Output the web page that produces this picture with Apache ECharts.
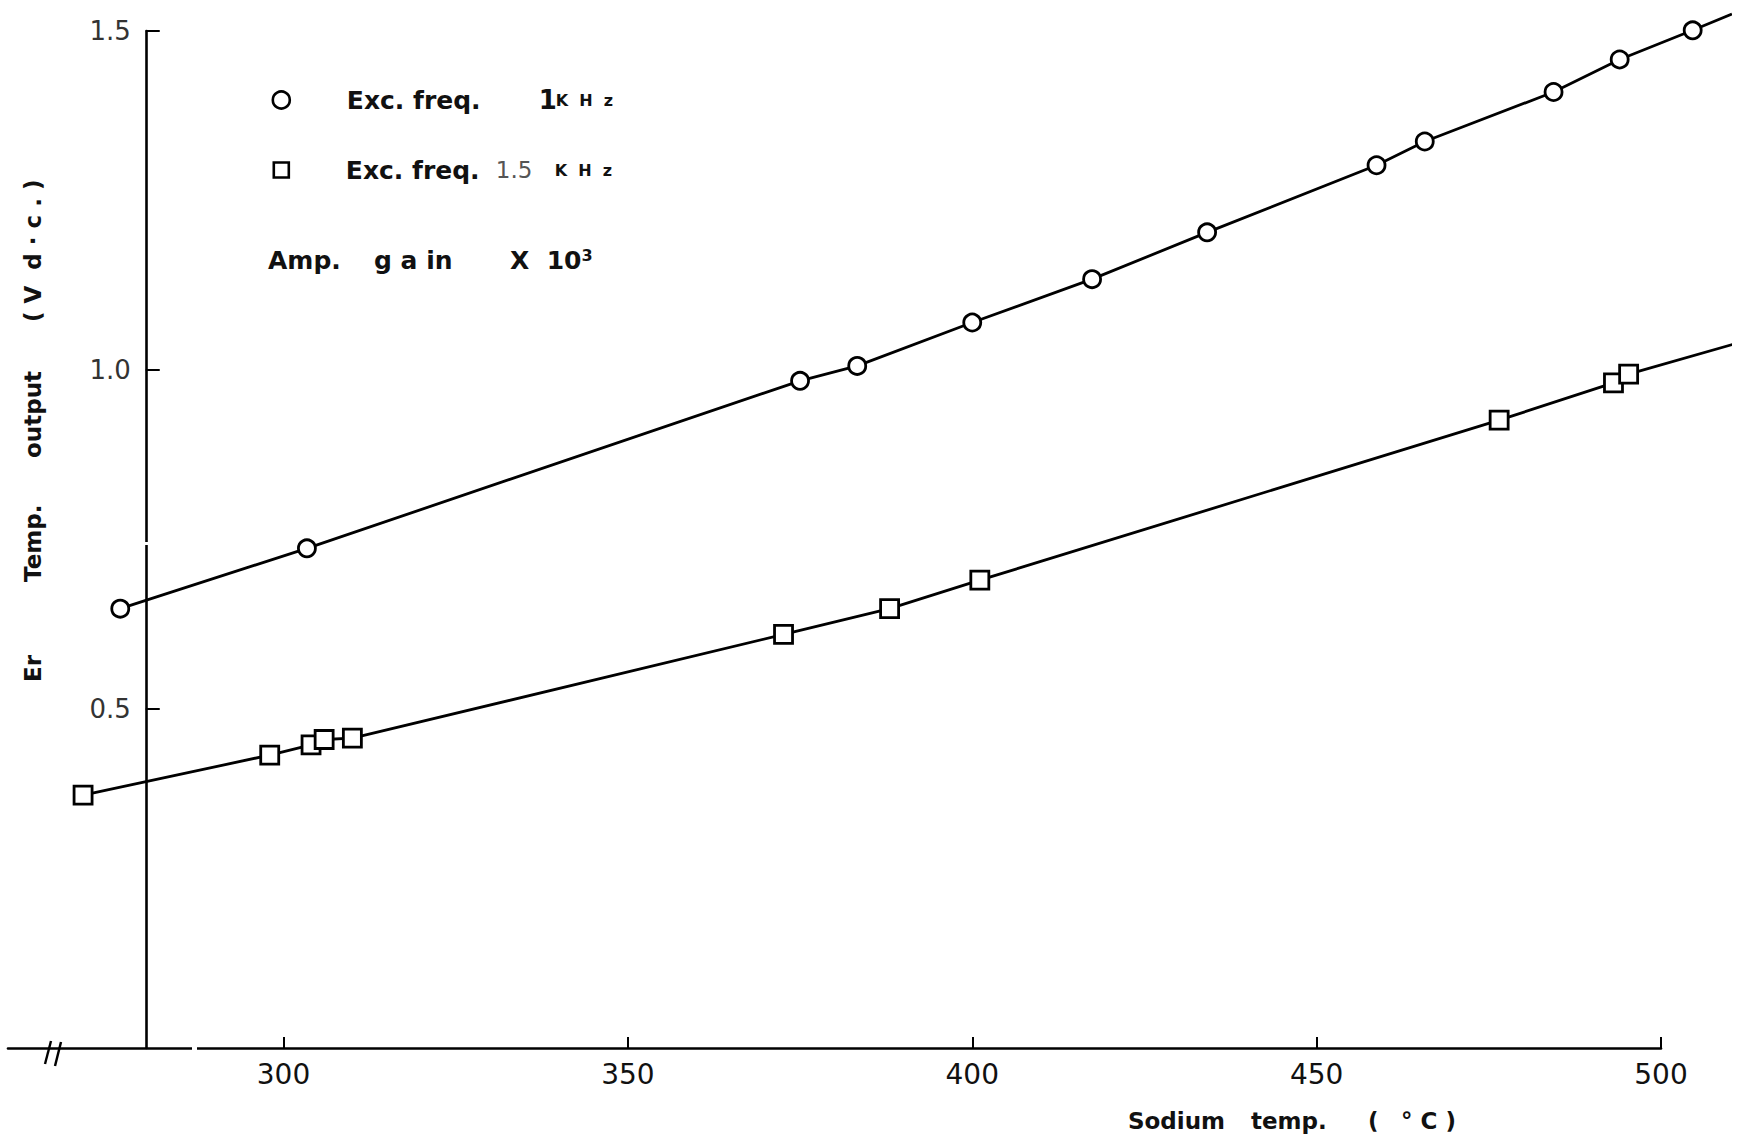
<!DOCTYPE html>
<html>
<head>
<meta charset="utf-8">
<script src="https://cdn.jsdelivr.net/npm/echarts@6/dist/echarts.min.js"></script>
<style>
html,body{margin:0;padding:0;background:#fff;}
#chart{width:1752px;height:1143px;}
</style>
</head>
<body>
<div id="chart"></div>
<script>
// ---- data ----
const seriesNames = ['Exc. freq. 1 KHz', 'Exc. freq. 1.5 KHz'];
const tempCircle = [276.3, 303.4, 375.0, 383.3, 400.0, 417.4, 434.1, 458.7, 465.7, 484.4, 494.0, 504.6];
const voltCircle = [0.648, 0.737, 0.984, 1.006, 1.070, 1.134, 1.203, 1.302, 1.337, 1.410, 1.458, 1.501];
const circleLineEnd = [510.3, 1.525];
const tempSquare = [270.9, 298.0, 304.0, 305.9, 310.0, 372.6, 388.0, 401.1, 476.5, 493.1, 495.3];
const voltSquare = [0.373, 0.432, 0.447, 0.455, 0.457, 0.610, 0.648, 0.690, 0.926, 0.981, 0.994];
const squareLineEnd = [510.5, 1.038];
const xTickValues = [300, 350, 400, 450, 500];
const yTickValues = [0.5, 1.0, 1.5];
const xAxisTitleWords = ['Sodium', 'temp.', '(', '° C )'];
const yAxisTitleWords = ['Er', 'Temp.', 'output', '( V  d · c . )'];

// ---- layout ----
const X_MIN = 260, X_AXIS_MAX = 500, X_LINE_MAX = 510, Y_AXIS_AT = 280;
const Y_MIN = 0, Y_MAX = 1.5;
const W = 1752;
const GRID_LEFT = 8, GRID_TOP = 31, GRID_BOTTOM = 95, AXIS_RIGHT_PX = 1661;
const pxPerUnit = (AXIS_RIGHT_PX - GRID_LEFT) / (X_AXIS_MAX - X_MIN);
const dataGridRight = W - (GRID_LEFT + (X_LINE_MAX - X_MIN) * pxPerUnit);
const yAxisOffset = -(Y_AXIS_AT - X_MIN) * pxPerUnit;
const FONT = '"DejaVu Sans", sans-serif';

const circleData = tempCircle.map((t, i) => [t, voltCircle[i]])
  .concat([{ value: circleLineEnd, symbol: 'none' }]);
const squareData = tempSquare.map((t, i) => [t, voltSquare[i]])
  .concat([{ value: squareLineEnd, symbol: 'none' }]);

const markerStyle = { color: '#fff', borderColor: '#000', borderWidth: 2.8 };
const bold = (size, extra) => Object.assign({ fontSize: size, fontWeight: 'bold', fontFamily: FONT, color: '#111', fill: '#111' }, extra || {});
const legendRich = {
  p: { width: 52, fontSize: 10 },
  t: bold(25, { width: 192 }),
  t2: bold(25, { width: 150 }),
  n: bold(26, { width: 17 }),
  m: { width: 59, fontSize: 23, fontWeight: 'normal', fontFamily: FONT, color: '#555' },
  k: bold(16)
};
function legendFor(idx, centerY) {
  return {
    data: [{ name: seriesNames[idx], icon: idx === 0 ? 'circle' : 'rect' }],
    orient: 'vertical',
    left: 280 - 8.5 - (idx === 1 ? -1 : 0),
    top: centerY - 15,
    padding: 0,
    itemWidth: idx === 0 ? 17 : 15,
    itemHeight: idx === 0 ? 17 : 15,
    selectedMode: false,
    itemStyle: { color: '#fff', borderColor: '#000', borderWidth: 2.6 },
    formatter: function (name) {
      return name === seriesNames[0]
        ? '{p| }{t|Exc. freq.}{n|1}{k|K  H  z}'
        : '{p| }{t2|Exc. freq.}{m|1.5}{k|K  H  z}';
    },
    textStyle: { fontFamily: FONT, color: '#111', lineHeight: 30, rich: legendRich }
  };
}

const chart = echarts.init(document.getElementById('chart'), null, { renderer: 'svg' });
chart.setOption({
  animation: false,
  backgroundColor: '#fff',
  grid: [
    { left: GRID_LEFT, right: W - AXIS_RIGHT_PX, top: GRID_TOP, bottom: GRID_BOTTOM, containLabel: false },
    { left: GRID_LEFT, right: dataGridRight, top: GRID_TOP, bottom: GRID_BOTTOM, containLabel: false }
  ],
  xAxis: [
    {
      type: 'value', gridIndex: 0, min: X_MIN, max: X_AXIS_MAX,
      axisLine: { show: true, lineStyle: { color: '#000', width: 2.6 } },
      axisTick: { show: true, inside: true, length: 11, customValues: xTickValues,
                  lineStyle: { color: '#000', width: 2 } },
      axisLabel: { show: true, customValues: xTickValues, margin: 12, fontSize: 28,
                   fontFamily: FONT, color: '#111' },
      splitLine: { show: false }
    },
    { type: 'value', gridIndex: 1, min: X_MIN, max: X_LINE_MAX, show: false }
  ],
  yAxis: [
    {
      type: 'value', gridIndex: 0, min: Y_MIN, max: Y_MAX, offset: yAxisOffset,
      axisLine: { show: true, onZero: false, lineStyle: { color: '#000', width: 2.6 } },
      axisTick: { show: true, inside: true, length: 14, customValues: yTickValues,
                  lineStyle: { color: '#000', width: 2 } },
      axisLabel: { show: true, customValues: yTickValues, margin: 15, fontSize: 26,
                   fontFamily: FONT, color: '#333',
                   formatter: v => v.toFixed(1) },
      splitLine: { show: false }
    },
    { type: 'value', gridIndex: 1, min: Y_MIN, max: Y_MAX, show: false }
  ],
  legend: [legendFor(0, 100), legendFor(1, 170)],
  series: [
    {
      name: seriesNames[0], type: 'line', xAxisIndex: 1, yAxisIndex: 1,
      data: circleData, symbol: 'circle', symbolSize: 17, clip: false,
      itemStyle: markerStyle, lineStyle: { color: '#000', width: 2.8 },
      silent: true, z: 3
    },
    {
      name: seriesNames[1], type: 'line', xAxisIndex: 1, yAxisIndex: 1,
      data: squareData, symbol: 'rect', symbolSize: 18, clip: false,
      itemStyle: markerStyle, lineStyle: { color: '#000', width: 2.8 },
      silent: true, z: 3
    }
  ],
  graphic: [
    {
      type: 'text', x: 268, y: 260, z: 50,
      style: {
        text: '{a|Amp.}{b|g a in}{c|X  10}{s|3}',
        textVerticalAlign: 'middle',
        rich: {
          a: bold(25, { width: 106 }),
          b: bold(25, { width: 136 }),
          c: bold(25),
          s: bold(16, { verticalAlign: 'top' })
        }
      }
    },
    {
      type: 'text', x: 33, y: 682, rotation: Math.PI / 2, z: 50,
      style: {
        text: '{a|' + yAxisTitleWords[0] + '}{b|' + yAxisTitleWords[1] + '}{c|' +
              yAxisTitleWords[2] + '}{d|' + yAxisTitleWords[3] + '}',
        textAlign: 'left', textVerticalAlign: 'middle',
        rich: {
          a: bold(23, { width: 100 }),
          b: bold(23, { width: 124 }),
          c: bold(23, { width: 136 }),
          d: bold(23)
        }
      }
    },
    {
      type: 'text', x: 1128, y: 1121, z: 50,
      style: {
        text: '{a|' + xAxisTitleWords[0] + '}{b|' + xAxisTitleWords[1] + '}{c|' +
              xAxisTitleWords[2] + '}{d|' + xAxisTitleWords[3] + '}',
        textAlign: 'left', textVerticalAlign: 'middle',
        rich: {
          a: bold(23, { width: 123 }),
          b: bold(23, { width: 117 }),
          c: bold(23, { width: 33 }),
          d: bold(23)
        }
      }
    },
    // axis break mark "//"
    { type: 'line', z: 60, shape: { x1: 45, y1: 1064, x2: 51, y2: 1041 }, style: { stroke: '#000', lineWidth: 2.4 } },
    { type: 'line', z: 60, shape: { x1: 55, y1: 1066, x2: 61, y2: 1042 }, style: { stroke: '#000', lineWidth: 2.4 } },
    // small breaks in the drawn axes
    { type: 'rect', z: 60, shape: { x: 192, y: 1043, width: 5, height: 10 }, style: { fill: '#fff' } },
    { type: 'rect', z: 60, shape: { x: 140, y: 542, width: 10, height: 3 }, style: { fill: '#fff' } }
  ]
});
</script>
</body>
</html>
